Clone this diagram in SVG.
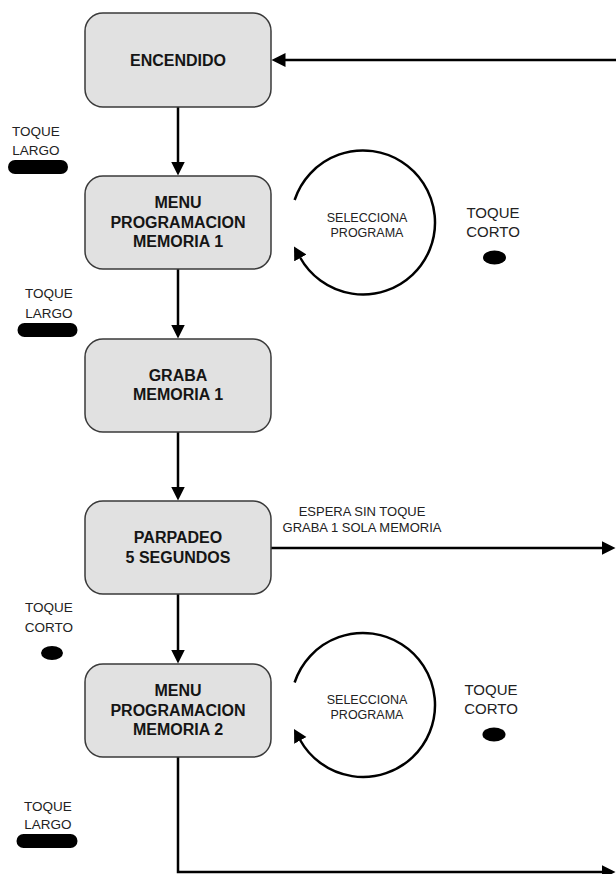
<svg xmlns="http://www.w3.org/2000/svg" width="616" height="874" viewBox="0 0 616 874">
<style>
.box{fill:#e1e1e1;stroke:#3a3a3a;stroke-width:1.5}
.bt{font-family:"Liberation Sans",Arial,sans-serif;font-weight:bold;font-size:16px;fill:#151515;text-anchor:middle}
.lt{font-family:"Liberation Sans",Arial,sans-serif;font-size:13.5px;fill:#222;text-anchor:middle}
.rt{font-family:"Liberation Sans",Arial,sans-serif;font-size:15px;fill:#222;text-anchor:middle}
.st{font-family:"Liberation Sans",Arial,sans-serif;font-size:12.5px;fill:#222;text-anchor:middle}
.et{font-family:"Liberation Sans",Arial,sans-serif;font-size:13px;fill:#222;text-anchor:middle}
.con{fill:none;stroke:#000;stroke-width:2.5}
.pill{fill:#000}
</style>
<defs>
<marker id="ah" markerUnits="userSpaceOnUse" markerWidth="16" markerHeight="16" refX="0.5" refY="7" orient="auto">
<path d="M0,0 L14,7 L0,14 z" fill="#000"/>
</marker>
<marker id="lh" markerUnits="userSpaceOnUse" markerWidth="16" markerHeight="16" refX="0.5" refY="7" orient="auto">
<path d="M0,0 L13,7 L0,14 z" fill="#000"/>
</marker>
</defs>

<g id="connectors">
<path class="con" d="M616 60 H285" marker-end="url(#ah)"/>
<path class="con" d="M178 107 V162" marker-end="url(#ah)"/>
<path class="con" d="M178 269 V325" marker-end="url(#ah)"/>
<path class="con" d="M178 432 V487" marker-end="url(#ah)"/>
<path class="con" d="M178 594 V650" marker-end="url(#ah)"/>
<path class="con" d="M271 548 H602" marker-end="url(#ah)"/>
<path class="con" d="M178 757 V872 H602" marker-end="url(#ah)"/>
<path class="con" d="M294.6 200 A72 72 0 1 1 300.1 257.5" marker-end="url(#lh)"/>
<path class="con" d="M294.6 682.5 A72 72 0 1 1 300.1 740" marker-end="url(#lh)"/>
</g>

<g id="n-encendido">
<rect class="box" x="85" y="13" width="186" height="94" rx="18"/>
<text class="bt" x="178" y="65.5">ENCENDIDO</text>
</g>
<g id="n-menu1">
<rect class="box" x="85" y="176" width="186" height="93" rx="18"/>
<text class="bt" x="178" y="207.5">MENU</text>
<text class="bt" x="178" y="227.5">PROGRAMACION</text>
<text class="bt" x="178" y="247">MEMORIA 1</text>
</g>
<g id="n-graba">
<rect class="box" x="85" y="339" width="186" height="93" rx="18"/>
<text class="bt" x="178" y="380.5">GRABA</text>
<text class="bt" x="178" y="400">MEMORIA 1</text>
</g>
<g id="n-parpadeo">
<rect class="box" x="85" y="501" width="186" height="93" rx="18"/>
<text class="bt" x="178" y="543">PARPADEO</text>
<text class="bt" x="178" y="562.5">5 SEGUNDOS</text>
</g>
<g id="n-menu2">
<rect class="box" x="85" y="664" width="186" height="93" rx="18"/>
<text class="bt" x="178" y="695.5">MENU</text>
<text class="bt" x="178" y="715.5">PROGRAMACION</text>
<text class="bt" x="178" y="735">MEMORIA 2</text>
</g>

<g id="lbl-largo1">
<text class="lt" x="36" y="136">TOQUE</text>
<text class="lt" x="36" y="155">LARGO</text>
<rect class="pill" x="8" y="160" width="60" height="14" rx="7"/>
</g>
<g id="lbl-largo2">
<text class="lt" x="49" y="298">TOQUE</text>
<text class="lt" x="49" y="318">LARGO</text>
<rect class="pill" x="17.5" y="323" width="60" height="14" rx="7"/>
</g>
<g id="lbl-corto-left">
<text class="lt" x="49" y="612">TOQUE</text>
<text class="lt" x="49" y="632">CORTO</text>
<ellipse class="pill" cx="52" cy="653" rx="11" ry="7"/>
</g>
<g id="lbl-largo3">
<text class="lt" x="48" y="811">TOQUE</text>
<text class="lt" x="48" y="829">LARGO</text>
<rect class="pill" x="16.5" y="834" width="61" height="14" rx="7"/>
</g>

<g id="loop1">
<text class="st" x="367" y="221.5">SELECCIONA</text>
<text class="st" x="367" y="236.5">PROGRAMA</text>
</g>
<g id="lbl-corto1">
<text class="rt" x="493" y="218">TOQUE</text>
<text class="rt" x="493" y="236.5">CORTO</text>
<ellipse class="pill" cx="494.5" cy="257.5" rx="11.5" ry="7"/>
</g>
<g id="loop2">
<text class="st" x="367" y="704">SELECCIONA</text>
<text class="st" x="367" y="719">PROGRAMA</text>
</g>
<g id="lbl-corto2">
<text class="rt" x="491" y="694.5">TOQUE</text>
<text class="rt" x="491" y="713.5">CORTO</text>
<ellipse class="pill" cx="494" cy="734.5" rx="11.5" ry="7"/>
</g>

<g id="lbl-espera">
<text class="et" x="362" y="516">ESPERA SIN TOQUE</text>
<text class="et" x="362" y="531.5">GRABA 1 SOLA MEMORIA</text>
</g>
</svg>
